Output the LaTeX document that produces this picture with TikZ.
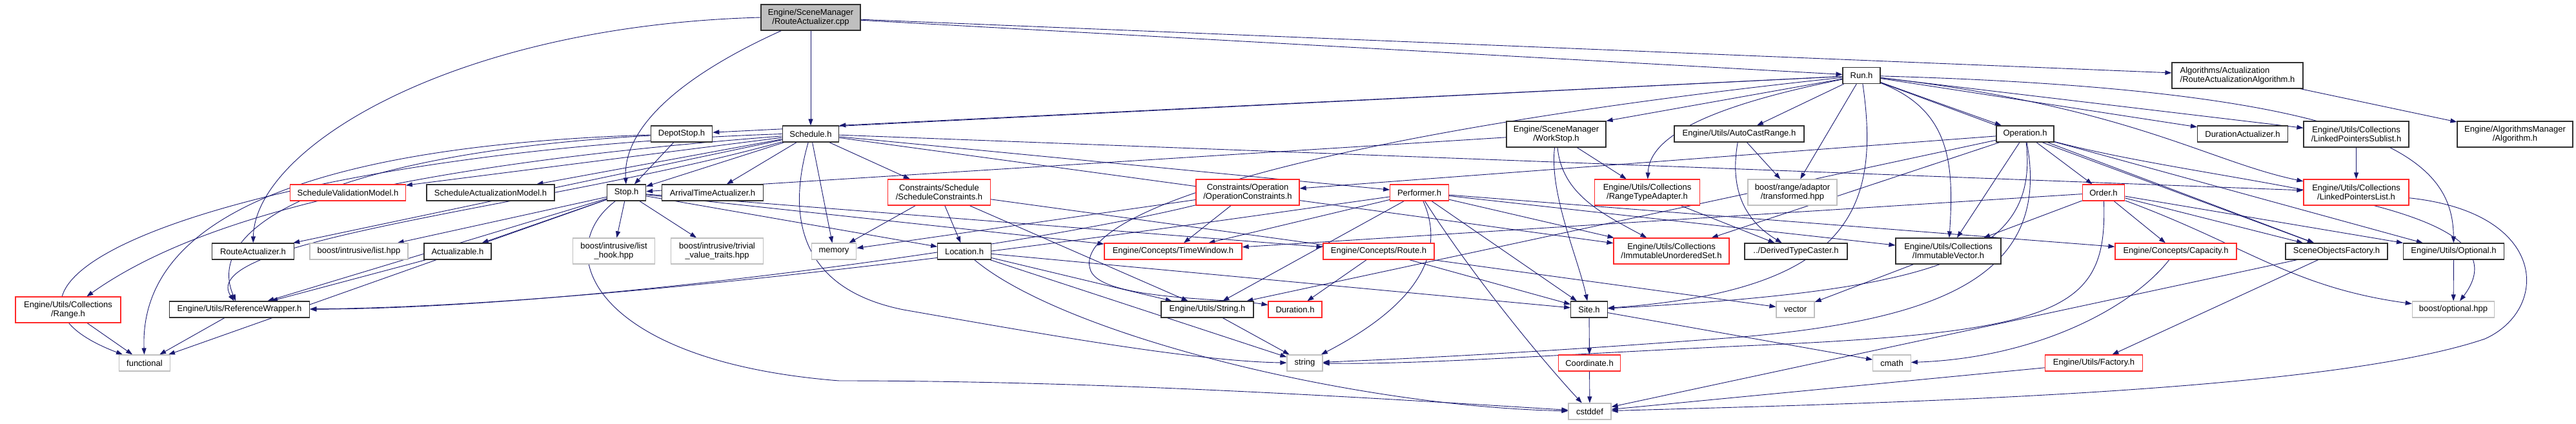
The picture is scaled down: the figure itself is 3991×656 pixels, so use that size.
\documentclass[tikz,border=0pt]{standalone}
\usepackage{fontspec}
\setmainfont{Liberation Sans}
\usetikzlibrary{arrows.meta}
\pgfdeclarelayer{bg}
\pgfdeclarelayer{paper}
\pgfsetlayers{paper,bg,main}
\definecolor{mblue}{HTML}{191970}
\definecolor{nred}{HTML}{FF2828}
\definecolor{ngray}{HTML}{BFBFBF}
\definecolor{nblack}{HTML}{303030}
\begin{document}
\begin{tikzpicture}[x=1pt,y=-1pt,
 box/.style={draw=nblack, line width=1.2pt, fill=white, inner sep=0pt, align=center,
   font=\fontsize{13}{14}\selectfont, minimum height=25pt},
 two/.style={minimum height=40pt},
 redb/.style={draw=nred},
 grayb/.style={draw=ngray},
 e/.style={draw=mblue, line width=0.9pt, -{Triangle[length=10pt,width=7pt]}}]
\useasboundingbox (0,0) rectangle (3991,656);
\begin{pgfonlayer}{paper}
\fill[white] (0,0) rectangle (3991,656);
\end{pgfonlayer}
% row 0/1
\node[box,two,fill=ngray,minimum width=154pt] (cpp) at (1256,27) {Engine/SceneManager\\/RouteActualizer.cpp};
\node[box,minimum width=58pt] (run) at (2884,117) {Run.h};
\node[box,two,align=left,minimum width=203pt] (raalg) at (3466.5,117) {Algorithms/Actualization\\/RouteActualizationAlgorithm.h};
% row 2
\node[box,minimum width=95.5pt] (depot) at (1056,207.5) {DepotStop.h};
\node[box,minimum width=87.5pt] (sched) at (1256,207.5) {Schedule.h};
\node[box,two,minimum width=154pt] (workstop) at (2411,208) {Engine/SceneManager\\/WorkStop.h};
\node[box,minimum width=201pt] (autocast) at (2694.5,207.5) {Engine/Utils/AutoCastRange.h};
\node[box,minimum width=89pt] (operation) at (3137.5,207.5) {Operation.h};
\node[box,minimum width=140pt] (duract) at (3474.5,207.5) {DurationActualizer.h};
\node[box,two,minimum width=163pt] (lpsub) at (3650.5,208) {Engine/Utils/Collections\\/LinkedPointersSublist.h};
\node[box,two,minimum width=179pt] (algo) at (3896.5,208) {Engine/AlgorithmsManager\\/Algorithm.h};
% row 3
\node[box,redb,minimum width=178.5pt] (svm) at (539,298.5) {ScheduleValidationModel.h};
\node[box,minimum width=198pt] (sam) at (760,298.5) {ScheduleActualizationModel.h};
\node[box,minimum width=60pt] (stop) at (970.6,298.5) {Stop.h};
\node[box,minimum width=157.6pt] (arrival) at (1104,298.5) {ArrivalTimeActualizer.h};
\node[box,two,redb,minimum width=158.5pt] (schedcons) at (1455,298) {Constraints/Schedule\\/ScheduleConstraints.h};
\node[box,two,redb,minimum width=160pt] (opcons) at (1933,298) {Constraints/Operation\\/OperationConstraints.h};
\node[box,redb,minimum width=90.5pt] (performer) at (2199,298.5) {Performer.h};
\node[box,two,redb,minimum width=163.5pt] (rta) at (2552,298) {Engine/Utils/Collections\\/RangeTypeAdapter.h};
\node[box,two,grayb,minimum width=138pt] (transformed) at (2777,298) {boost/range/adaptor\\/transformed.hpp};
\node[box,redb,minimum width=65.6pt] (order) at (3259,298.5) {Order.h};
\node[box,two,redb,minimum width=163pt] (lplist) at (3650.5,298) {Engine/Utils/Collections\\/LinkedPointersList.h};
% row 4
\node[box,minimum width=126.5pt] (ra) at (392,389.5) {RouteActualizer.h};
\node[box,grayb,minimum width=152pt] (listhpp) at (556,389.5) {boost/intrusive/list.hpp};
\node[box,minimum width=104pt] (actualizable) at (709,389.5) {Actualizable.h};
\node[box,two,grayb,minimum width=127.7pt] (listhook) at (951,389) {boost/intrusive/list\\\_hook.hpp};
\node[box,two,grayb,minimum width=142.5pt] (trivial) at (1111,389) {boost/intrusive/trivial\\\_value\_traits.hpp};
\node[box,grayb,minimum width=69.6pt] (memory) at (1292,389.5) {memory};
\node[box,minimum width=82.5pt] (location) at (1494,389.5) {Location.h};
\node[box,redb,minimum width=213pt] (timewindow) at (1817.5,389.5) {Engine/Concepts/TimeWindow.h};
\node[box,redb,minimum width=172pt] (route) at (2136,389.5) {Engine/Concepts/Route.h};
\node[box,two,redb,minimum width=179pt] (ius) at (2589.5,389) {Engine/Utils/Collections\\/ImmutableUnorderedSet.h};
\node[box,minimum width=159pt] (dtc) at (2782.5,389.5) {../DerivedTypeCaster.h};
\node[box,two,minimum width=163pt] (ivec) at (3018.5,389) {Engine/Utils/Collections\\/ImmutableVector.h};
\node[box,redb,minimum width=188pt] (capacity) at (3371,389.5) {Engine/Concepts/Capacity.h};
\node[box,minimum width=158pt] (sof) at (3620,389.5) {SceneObjectsFactory.h};
\node[box,minimum width=156pt] (optional) at (3801.5,389.5) {Engine/Utils/Optional.h};
% row 5
\node[box,two,redb,minimum width=163pt] (range) at (105.5,480) {Engine/Utils/Collections\\/Range.h};
\node[box,minimum width=217.5pt] (refwrap) at (371,479.5) {Engine/Utils/ReferenceWrapper.h};
\node[box,minimum width=143pt] (stringh) at (1870.5,479.5) {Engine/Utils/String.h};
\node[box,redb,minimum width=83pt] (duration) at (2006.5,479.5) {Duration.h};
\node[box,minimum width=56.6pt] (site) at (2462,479.5) {Site.h};
\node[box,grayb,minimum width=59pt] (vector) at (2781.5,479.5) {vector};
\node[box,grayb,minimum width=127.4pt] (boostopt) at (3801,479.5) {boost/optional.hpp};
% row 6/7
\node[box,grayb,minimum width=78.4pt] (functional) at (224,562.5) {functional};
\node[box,grayb,minimum width=55pt] (string) at (2021.5,562.5) {string};
\node[box,redb,minimum width=96pt] (coordinate) at (2462.5,562.5) {Coordinate.h};
\node[box,grayb,minimum width=58.5pt] (cmath) at (2931,562.5) {cmath};
\node[box,redb,minimum width=151.4pt] (factory) at (3244,562.5) {Engine/Utils/Factory.h};
\node[box,grayb,minimum width=66pt] (cstddef) at (2463,637.5) {cstddef};

\begin{pgfonlayer}{bg}
% RouteActualizer.cpp
\draw[e] (cpp.west) .. controls (700,40) and (395,230) .. (ra);
\draw[e] (cpp) .. controls (1050,120) and (965,200) .. (stop);
\draw[e] (cpp) -- (sched);
\draw[e] (cpp) -- (run);
\draw[e] (cpp) -- (raalg);
\draw[e] (raalg) -- (algo);
% Run.h
\draw[e] (run) -- (depot);
\draw[e] (run) -- (sched.north east);
\draw[e] (run) -- (workstop.north east);
\draw[e] (run) .. controls (2620,170) and (2555,220) .. (rta);
\draw[e] (run) -- (autocast);
\draw[e] (run) -- (transformed);
\draw[e] (run) -- (operation);
\draw[e] (run) -- (duract);
\draw[e] (run) -- (lpsub);
\draw[e] (run) .. controls (3300,165) and (3420,250) .. (lplist);
\draw[e] (run) .. controls (3700,140) and (3800,250) .. (optional);
\draw[e] (run) .. controls (2915,330) and (2860,450) .. (site);
\draw[e] (run) .. controls (3020,170) and (3028,250) .. (ivec);
\draw[e] (run) .. controls (2100,200) and (1650,320) .. (1690,420) .. controls (1710,465) and (1900,462) .. (duration);
\draw[e] (run) -- (sof);
% Schedule.h
\draw[e] (sched) -- (svm);
\draw[e] (sched) -- (sam);
\draw[e] (sched) -- (stop);
\draw[e] (sched) -- (arrival);
\draw[e] (sched) -- (schedcons);
\draw[e] (sched) -- (performer);
\draw[e] (sched) .. controls (700,250) and (330,320) .. (range);
\draw[e] (sched) .. controls (850,320) and (300,370) .. (refwrap);
\draw[e] (sched.west) .. controls (400,235) and (-120,430) .. (functional);
\draw[e] (sched) -- (memory);
\draw[e] (sched) .. controls (1215,350) and (1250,450) .. (1400,480) .. controls (1600,515) and (1850,560) .. (string);
\draw[e] (sched) -- (lplist);
\draw[e] (sched) -- (ra);
\draw[e] (sched) -- (ius);
% DepotStop.h
\draw[e] (depot) -- (stop);
\draw[e] (depot) .. controls (500,225) and (215,330) .. (functional);
\draw[e] (depot) .. controls (550,235) and (310,340) .. (refwrap);
% WorkStop.h
\draw[e] (workstop) -- (stop);
\draw[e] (workstop) -- (rta);
\draw[e] (workstop) .. controls (2420,300) and (2480,330) .. (ius);
\draw[e] (workstop) .. controls (2400,300) and (2445,400) .. (site);
% Stop.h
\draw[e] (stop) -- (listhpp);
\draw[e] (stop) -- (actualizable);
\draw[e] (stop) -- (listhook);
\draw[e] (stop) -- (trivial);
\draw[e] (stop) -- (refwrap);
\draw[e] (stop) -- (functional);
\draw[e] (stop) .. controls (850,390) and (920,560) .. (1300,590) .. controls (1700,590) and (2100,615) .. (cstddef);
\draw[e] (stop) -- (location);
\draw[e] (stop) -- (timewindow);
\draw[e] (stop) -- (route);
\draw[e] (actualizable) -- (refwrap);
\draw[e] (range) -- (functional);
\draw[e] (refwrap) -- (functional);
% constraints
\draw[e] (schedcons) -- (memory);
\draw[e] (schedcons) -- (location);
\draw[e] (schedcons) -- (stringh);
\draw[e] (schedcons) -- (vector);
\draw[e] (opcons) -- (timewindow);
\draw[e] (opcons) -- (memory);
\draw[e] (opcons) .. controls (1600,380) and (900,478) .. (refwrap);
% Performer.h
\draw[e] (performer) -- (timewindow);
\draw[e] (performer) -- (site);
\draw[e] (performer) .. controls (2290,440) and (2400,570) .. (cstddef);
\draw[e] (performer) .. controls (2240,390) and (2200,470) .. (string);
\draw[e] (performer) -- (stringh);
\draw[e] (performer) -- (ius);
\draw[e] (performer) .. controls (1900,340) and (1000,475) .. (refwrap);
\draw[e] (performer) -- (capacity);
\draw[e] (performer) -- (ivec);
% Location.h etc
\draw[e] (location) -- (site);
\draw[e] (location) -- (string);
\draw[e] (location) -- (stringh);
\draw[e] (location) .. controls (1650,520) and (2100,630) .. (cstddef);
\draw[e] (route) -- (duration);
\draw[e] (route) -- (site);
\draw[e] (stringh) -- (string);
\draw[e] (site) -- (coordinate);
\draw[e] (site) -- (cmath);
\draw[e] (coordinate) -- (cstddef);
% Operation.h
\draw[e] (operation) -- (opcons);
\draw[e] (operation) -- (ius);
\draw[e] (operation) -- (order);
\draw[e] (operation) -- (ivec);
\draw[e] (operation) -- (sof);
\draw[e] (operation) -- (optional);
\draw[e] (operation) .. controls (3160,400) and (3000,450) .. (site);
\draw[e] (operation) .. controls (3180,430) and (3000,495) .. (2700,522) .. controls (2400,545) and (2200,555) .. (string);
\draw[e] (operation) -- (stringh);
\draw[e] (operation) .. controls (3450,290) and (3930,310) .. (boostopt);
% Order.h
\draw[e] (order) -- (ivec);
\draw[e] (order) -- (capacity);
\draw[e] (order) -- (sof);
\draw[e] (order) -- (optional);
\draw[e] (order) .. controls (3480,380) and (3550,445) .. (boostopt);
\draw[e] (order) .. controls (3265,480) and (3200,515) .. (2700,536) .. controls (2400,550) and (2200,565) .. (string);
\draw[e] (order) -- (timewindow);
% misc
\draw[e] (autocast) -- (transformed);
\draw[e] (autocast) .. controls (2680,290) and (2700,340) .. (dtc);
\draw[e] (rta) -- (dtc);
\draw[e] (ivec) -- (vector);
\draw[e] (capacity) .. controls (3300,480) and (3150,555) .. (cmath);
\draw[e] (sof) -- (factory);
\draw[e] (sof) -- (cstddef);
\draw[e] (factory) -- (cstddef);
\draw[e] (optional) -- (boostopt);
\draw[e] (lpsub) -- (lplist);
\draw[e] (lplist) .. controls (3950,330) and (3950,480) .. (3850,525) .. controls (3600,610) and (2900,625) .. (cstddef);
\end{pgfonlayer}
\end{tikzpicture}
\end{document}
